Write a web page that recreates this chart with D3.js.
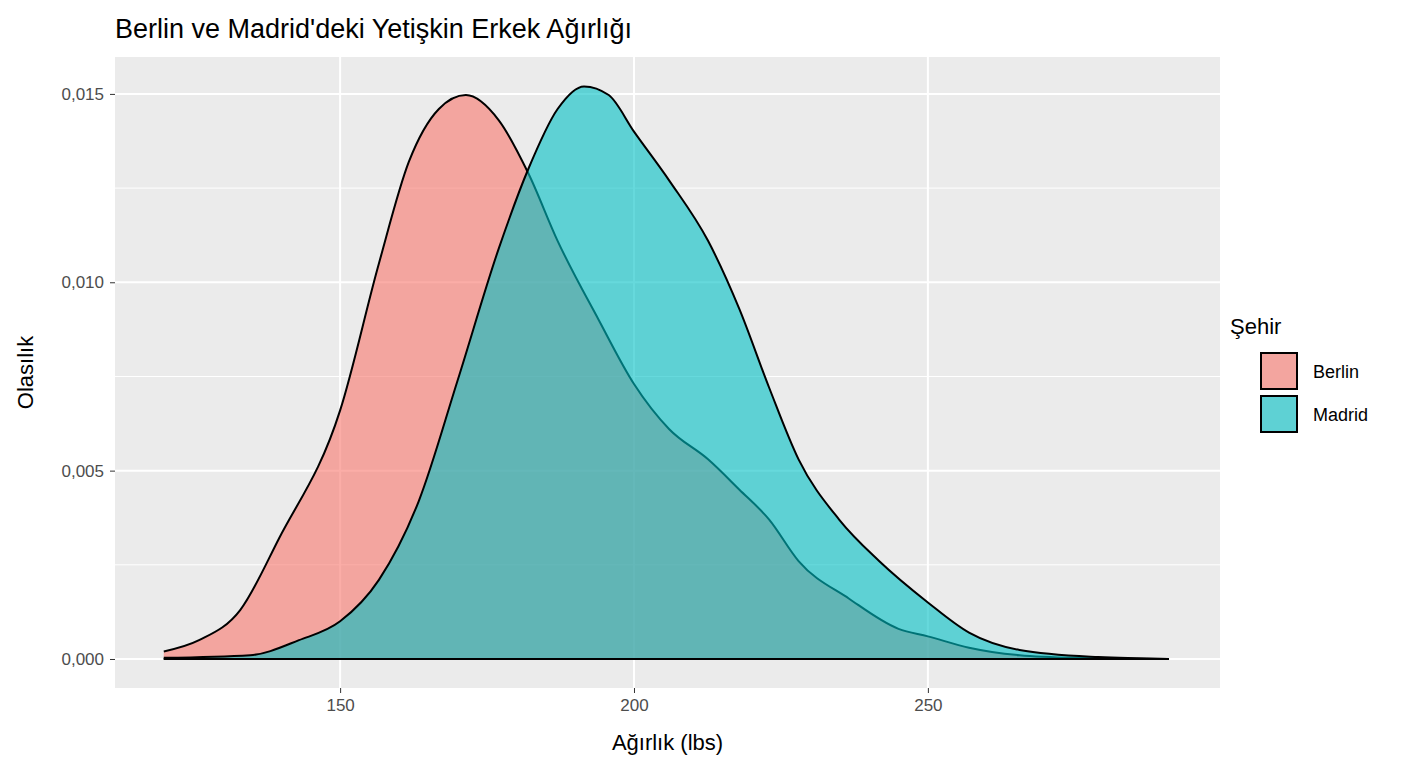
<!DOCTYPE html>
<html><head><meta charset="utf-8">
<script src="https://cdn.jsdelivr.net/npm/d3@7"></script>
<style>body{margin:0;background:#fff;font-family:Arial,"Liberation Sans",sans-serif}</style>
</head><body><svg id="c" width="1408" height="768"></svg>
<script>
const berlinX=[120,126,133,139.6,150,156.6,161.7,166.8,171.4,177,182,187,194,200,206,212.6,217.9,223,228,236.6,245,250,257,265.6,275,291];
const berlinY=[0.0002,0.0005,0.0013,0.0032,0.0066,0.0105,0.0132,0.0146,0.01497,0.0143,0.0129,0.0111,0.009,0.0073,0.0061,0.0053,0.0045,0.0037,0.0026,0.0016,0.0008,0.0006,0.0003,0.0001,0.00003,0];
const madridX=[120,134.7,143,150,156.6,163.4,170,177,182,187,191.5,195.7,200,206,212.6,217.9,223,228,234.9,241.7,250,257,265.6,279,291];
const madridY=[0.00003,0.0001,0.0005,0.001,0.0021,0.0042,0.0074,0.0109,0.013,0.0146,0.0152,0.01497,0.014,0.0127,0.0111,0.0093,0.0072,0.0053,0.0037,0.0026,0.0015,0.0007,0.00024,0.00005,0];
const cities=["Berlin","Madrid"];
const colors=["#F8766D","#00BFC4"];
const xTicks=[150,200,250];
const yTicks=[0,0.005,0.010,0.015];
const yMinor=[0.0025,0.0075,0.0125];

const svg=d3.select("#c");
const L=115,R=1220,T=57,B=688;
const x=d3.scaleLinear().domain([111.7,299.7]).range([L,R]);
const y=d3.scaleLinear().domain([-0.00077,0.01598]).range([B,T]);
svg.append("rect").attr("x",L).attr("y",T).attr("width",R-L).attr("height",B-T).attr("fill","#EBEBEB");
yMinor.forEach(v=>svg.append("line").attr("x1",L).attr("x2",R).attr("y1",y(v)).attr("y2",y(v)).attr("stroke","#fff").attr("stroke-width",1));
yTicks.forEach(v=>svg.append("line").attr("x1",L).attr("x2",R).attr("y1",y(v)).attr("y2",y(v)).attr("stroke","#fff").attr("stroke-width",2));
xTicks.forEach(v=>svg.append("line").attr("y1",T).attr("y2",B).attr("x1",x(v)).attr("x2",x(v)).attr("stroke","#fff").attr("stroke-width",2));

const series=[berlinX.map((d,i)=>[d,berlinY[i]]),madridX.map((d,i)=>[d,madridY[i]])];
const area=d3.area().x(d=>x(d[0])).y0(y(0)).y1(d=>y(d[1])).curve(d3.curveMonotoneX);
const line=d3.line().x(d=>x(d[0])).y(d=>y(d[1])).curve(d3.curveMonotoneX);
series.forEach((s,i)=>{
  svg.append("path").attr("d",area(s)).attr("fill",colors[i]).attr("fill-opacity",0.6);
  svg.append("path").attr("d",line(s)).attr("fill","none").attr("stroke","#000").attr("stroke-width",2);
  svg.append("line").attr("x1",x(s[0][0])).attr("x2",x(s[s.length-1][0])).attr("y1",y(0)).attr("y2",y(0)).attr("stroke","#000").attr("stroke-width",2);
});

const xa=svg.append("g").attr("transform",`translate(0,${B})`).call(d3.axisBottom(x).tickValues(xTicks).tickSize(5).tickPadding(6));
const ya=svg.append("g").attr("transform",`translate(${L},0)`).call(d3.axisLeft(y).tickValues(yTicks).tickSize(5).tickPadding(6).tickFormat(d=>d3.format(".3f")(d).replace(".",",")));
[xa,ya].forEach(a=>{a.select(".domain").remove();a.selectAll("line").attr("stroke","#333");a.selectAll("text").attr("fill","#4D4D4D").style("font-size","17px").style("font-family","Arial,'Liberation Sans',sans-serif");});

svg.append("text").attr("x",115).attr("y",38).text("Berlin ve Madrid'deki Yetişkin Erkek Ağırlığı").style("font-size","27px").attr("fill","#000");
svg.append("text").attr("x",(L+R)/2).attr("y",750).attr("text-anchor","middle").text("Ağırlık (lbs)").style("font-size","22px");
svg.append("text").attr("transform",`translate(33,${(T+B)/2}) rotate(-90)`).attr("text-anchor","middle").text("Olasılık").style("font-size","22px");

svg.append("text").attr("x",1230).attr("y",334).text("Şehir").style("font-size","22px");
cities.forEach((c,i)=>{
  const yy=352+i*43;
  svg.append("rect").attr("x",1260).attr("y",yy).attr("width",38).attr("height",38).attr("fill","#EBEBEB");
  svg.append("rect").attr("x",1261).attr("y",yy+1).attr("width",36).attr("height",36).attr("fill",colors[i]).attr("fill-opacity",0.6).attr("stroke","#000").attr("stroke-width",2);
  svg.append("text").attr("x",1313).attr("y",yy+26).text(c).style("font-size","18px");
});
</script></body></html>
